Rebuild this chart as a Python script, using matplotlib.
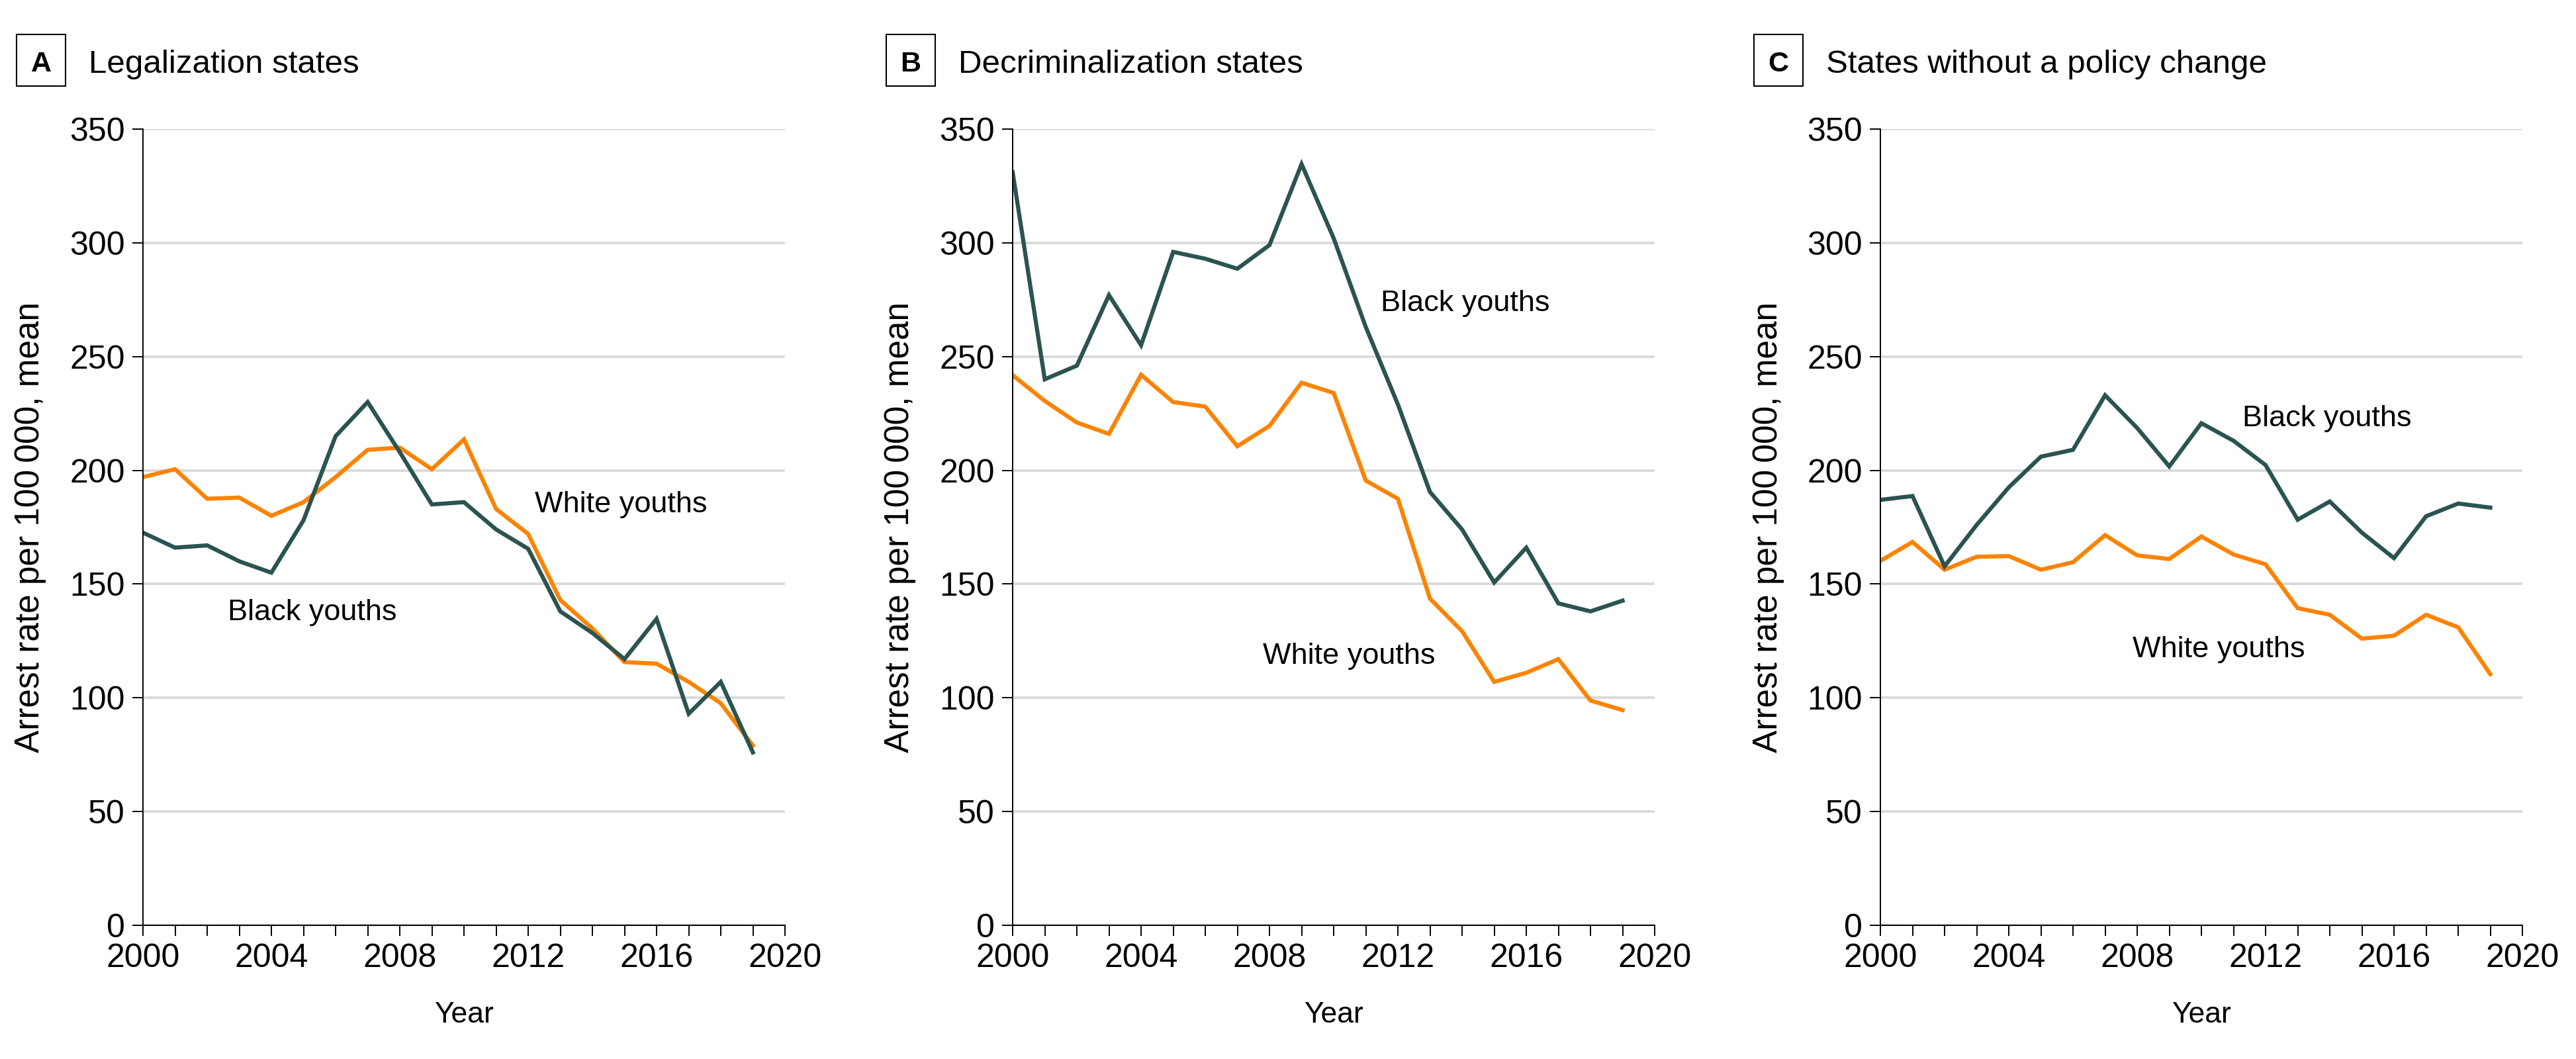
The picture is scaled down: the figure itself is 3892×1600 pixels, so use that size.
import numpy as np
import matplotlib.pyplot as plt
from matplotlib.patches import Rectangle

plt.rcParams['font.family'] = ['Liberation Sans', 'DejaVu Sans']

years = np.arange(2000, 2020)

legal_black = [172.6, 166, 167, 160, 155, 178, 215, 230, 208, 185,
               186, 174, 165.5, 138, 128.5, 117, 134.7, 93, 107, 76]
legal_white = [197, 200.5, 187.5, 188, 180, 186, 197, 209, 210, 200.5,
               213.6, 183, 172, 143, 130.5, 115.7, 115, 107, 97.6, 79]

decrim_black = [331, 240, 246, 277, 255, 296, 293, 288.6, 299, 334.6,
                302, 263, 229, 190.5, 174, 150.7, 166, 141.5, 138, 142.7]
decrim_white = [241.8, 230.5, 221, 216, 242, 230, 228, 210.6, 219.5, 238.5,
                234, 195.5, 187.5, 143.6, 129.3, 107, 111, 117, 98.8, 94.6]

none_black = [187, 188.7, 157.8, 176, 192.5, 206, 209, 233, 218.6, 201.7,
              220.7, 213, 202.3, 178.3, 186.3, 172.6, 161.4, 179.8, 185.4, 183.6]
none_white = [160.2, 168.5, 156.3, 162, 162.3, 156.3, 159.6, 171.5, 162.6, 161,
              170.9, 163, 158.7, 139.4, 136.5, 126, 127.3, 136.5, 131, 110.4]

letters = ['A', 'B', 'C']
titles = ['Legalization states', 'Decriminalization states', 'States without a policy change']
black_series = [legal_black, decrim_black, none_black]
white_series = [legal_white, decrim_white, none_white]
# label anchors (x, baseline y) for "Black youths" / "White youths"
black_pos = [(2002.64, 134.1), (2011.46, 270.0), (2011.28, 219.5)]
white_pos = [(2012.2, 181.5), (2007.8, 114.8), (2007.85, 117.8)]

DARK = '#2b5451'
ORANGE = '#fd8300'
GRID = '#d9d9d9'

W, H = 3892, 1600
fig = plt.figure(figsize=(W / 100, H / 100), dpi=100)

lefts = [216, 1530, 2841]
for i in range(3):
    left = lefts[i]
    ax = fig.add_axes([left / W, (H - 1398) / H, 970 / W, 1203 / H])
    ax.plot(years, white_series[i], color=ORANGE, lw=4.5, solid_joinstyle='miter')
    ax.plot(years, black_series[i], color=DARK, lw=4.5, solid_joinstyle='miter')

    ax.set_xlim(2000, 2020)
    ax.set_ylim(0, 350)
    ax.set_xticks(range(2000, 2021, 4))
    ax.set_xticks(range(2000, 2021), minor=True)
    ax.set_yticks(range(0, 351, 50))
    ax.yaxis.grid(True, color=GRID, lw=2.7)
    ax.set_axisbelow(True)
    for s in ['top', 'right']:
        ax.spines[s].set_visible(False)
    for s in ['left', 'bottom']:
        ax.spines[s].set_linewidth(1.4)
    ax.tick_params(which='both', direction='out', length=11.5, width=1.4,
                   labelsize=36, pad=8)

    ax.set_xlabel('Year', fontsize=32, labelpad=30)
    ax.set_ylabel('Arrest rate per 100\u2009000, mean', fontsize=37)
    ax.yaxis.set_label_coords(-0.15, 0.5)

    bx, by = black_pos[i]
    wx, wy = white_pos[i]
    ax.text(bx, by, 'Black youths', fontsize=32.5, va='baseline', ha='left')
    ax.text(wx, wy, 'White youths', fontsize=32.5, va='baseline', ha='left')

    # panel letter box and title
    fig.patches.append(Rectangle(((left - 191) / W, (H - 130) / H), 74 / W, 78 / H,
                                 transform=fig.transFigure, fill=False,
                                 edgecolor='black', lw=1.5))
    fig.text((left - 154) / W, (H - 108) / H, letters[i], fontsize=31,
             fontweight='bold', ha='center', va='baseline')
    fig.text((left - 82) / W, (H - 110) / H, titles[i], fontsize=35.5,
             ha='left', va='baseline')

fig.savefig('out.png', dpi=100, facecolor='white')
